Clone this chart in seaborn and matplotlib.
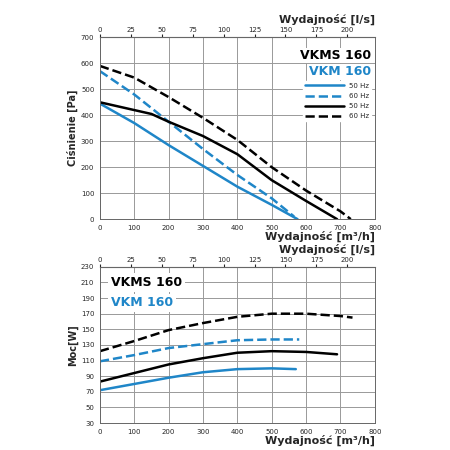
import matplotlib
matplotlib.use("Agg")
import matplotlib.pyplot as plt
import seaborn as sns

sns.set_style("white")
plt.rcParams['font.family'] = ['DejaVu Sans']

BLUE = "#1f86c8"
# Pressure curves (x m3/h, y Pa)
vkm50_x = [0, 100, 200, 300, 400, 500, 575]
vkm50_y = [445, 370, 285, 205, 125, 55, 0]
vkm60_x = [0, 100, 200, 300, 400, 500, 565]
vkm60_y = [570, 480, 375, 270, 170, 80, 10]
vkms50_x = [0, 100, 150, 200, 300, 400, 500, 600, 690]
vkms50_y = [450, 420, 405, 375, 320, 250, 150, 70, 0]
vkms60_x = [0, 100, 200, 300, 400, 500, 600, 700, 730]
vkms60_y = [590, 545, 470, 390, 305, 200, 110, 30, 0]
# Power curves (W)
pvkms60_x = [0, 100, 200, 300, 400, 500, 600, 700, 735]
pvkms60_y = [122, 135, 149, 158, 166, 170, 170, 167, 165]
pvkm60_x = [0, 100, 200, 300, 400, 500, 580]
pvkm60_y = [109, 117, 126, 131, 136, 137, 137]
pvkms50_x = [0, 100, 200, 300, 400, 500, 600, 690]
pvkms50_y = [83, 94, 105, 113, 120, 122, 121, 118]
pvkm50_x = [0, 100, 200, 300, 400, 500, 570]
pvkm50_y = [72, 80, 88, 95, 99, 100, 99]

fig = plt.figure(figsize=(4.5, 4.5), dpi=100)
ax1 = fig.add_axes([0.222, 0.513, 0.611, 0.404])
ax2 = fig.add_axes([0.222, 0.06, 0.611, 0.347])

def line(ax, x, y, color, dash, label=None):
    sns.lineplot(x=x, y=y, ax=ax, color=color, lw=1.8, linestyle="--" if dash else "-",
                 label=label, legend=False)

line(ax1, vkm50_x, vkm50_y, BLUE, False, "50 Hz")
line(ax1, vkm60_x, vkm60_y, BLUE, True, "60 Hz")
line(ax1, vkms50_x, vkms50_y, "black", False, "50 Hz")
line(ax1, vkms60_x, vkms60_y, "black", True, "60 Hz")
line(ax2, pvkm50_x, pvkm50_y, BLUE, False)
line(ax2, pvkm60_x, pvkm60_y, BLUE, True)
line(ax2, pvkms50_x, pvkms50_y, "black", False)
line(ax2, pvkms60_x, pvkms60_y, "black", True)

for ax, ylim, step in [(ax1, (0, 700), 100), (ax2, (30, 230), 20)]:
    ax.set_xlim(0, 800)
    ax.set_ylim(*ylim)
    ax.set_xticks(range(0, 801, 100))
    ax.set_yticks(range(ylim[0], ylim[1] + 1, step))
    ax.grid(True, color="#999999", lw=0.7)
    ax.tick_params(labelsize=5, length=2, pad=2)
    for s in ax.spines.values():
        s.set_color("#666666"); s.set_linewidth(0.7)
    ax.set_xlabel("Wydajność [m³/h]", fontsize=8, fontweight="bold", loc="right", labelpad=0)
    sec = ax.secondary_xaxis("top", functions=(lambda v: v / 3.6, lambda v: v * 3.6))
    sec.set_xticks(range(0, 201, 25))
    sec.tick_params(labelsize=5, length=2, pad=1)
    sec.set_xlabel("Wydajność [l/s]", fontsize=8, fontweight="bold", loc="right", labelpad=3)

ax1.set_ylabel("Ciśnienie [Pa]", fontsize=7, fontweight="bold", labelpad=2)
ax2.set_ylabel("Moc[W]", fontsize=7, fontweight="bold", labelpad=2)

leg = ax1.legend(loc="upper right", bbox_to_anchor=(1.0, 0.78), fontsize=5, frameon=True,
                 edgecolor="white", framealpha=1, handlelength=5.5, borderpad=0.3,
                 labelspacing=0.6, fancybox=False)
ax1.text(0.985, 0.9, "VKMS 160", transform=ax1.transAxes, ha="right", va="center",
         fontsize=9, fontweight="bold", color="black",
         bbox=dict(fc="white", ec="none", pad=1))
ax1.text(0.985, 0.81, "VKM 160", transform=ax1.transAxes, ha="right", va="center",
         fontsize=9, fontweight="bold", color=BLUE,
         bbox=dict(fc="white", ec="none", pad=1))
ax2.text(0.04, 0.9, "VKMS 160", transform=ax2.transAxes, ha="left", va="center",
         fontsize=9, fontweight="bold", color="black", bbox=dict(fc="white", ec="none", pad=2))
ax2.text(0.04, 0.77, "VKM 160", transform=ax2.transAxes, ha="left", va="center",
         fontsize=9, fontweight="bold", color=BLUE, bbox=dict(fc="white", ec="none", pad=2))

fig.savefig("out.png", dpi=100, facecolor="white")
